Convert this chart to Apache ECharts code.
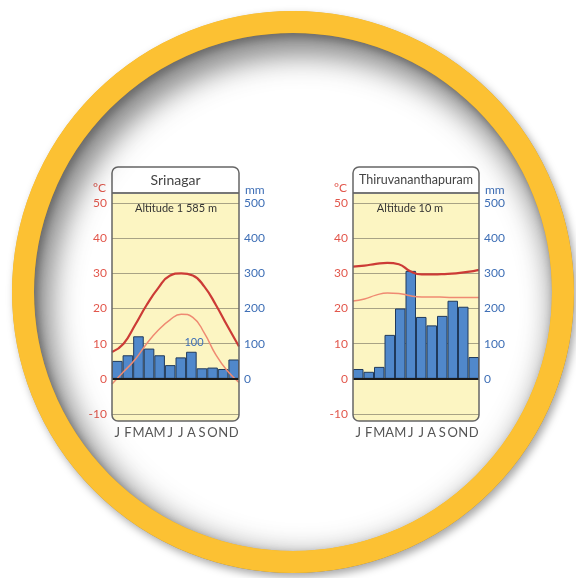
<!DOCTYPE html>
<html>
<head>
<meta charset="utf-8">
<script src="https://cdn.jsdelivr.net/npm/echarts@6/dist/echarts.min.js"></script>
<style>
  html, body { margin: 0; padding: 0; background: #fff; }
  #chart { width: 576px; height: 578px; }
</style>
</head>
<body>
<div id="chart"></div>
<script>
// month initials
var months = ['J', 'F', 'M', 'A', 'M', 'J', 'J', 'A', 'S', 'O', 'N', 'D']

// Srinagar
var srinagarRain = [51, 67, 121, 86, 67, 39, 61, 77, 30, 32, 28, 55]
var srinagarMax = [7.6, 10, 15.3, 21, 25.8, 29.3, 30, 29.4, 26.2, 21, 15, 9.2]
var srinagarMin = [-1.5, 2, 5.5, 10, 13.8, 16.7, 18.4, 17.5, 13, 6.8, 2.2, -1]

// Thiruvananthapuram
var thiruRain = [28, 20, 34, 125, 200, 307, 176, 152, 179, 222, 205, 62]
var thiruMax = [31.9, 32.2, 32.7, 33, 32.6, 30.6, 29.7, 29.7, 29.8, 30, 30.4, 31]
var thiruMin = [22.1, 22.7, 23.8, 24.4, 24.3, 23.6, 23.3, 23.3, 23.2, 23.1, 23.1, 23.1]

var tempTicks = { min: -10, max: 50, interval: 10 }
var rainTicks = { min: -100, max: 500, interval: 100 }

var font = 'Lato'
var red = '#e2574c'
var blue = '#3f6fb6'

var chart = echarts.init(document.getElementById('chart'))

function panel(x, w, title, titleSize, altitude, altX) {
  return [
    {
      type: 'rect', z: -10,
      shape: { x: x, y: 167, width: w, height: 254, r: 6 },
      style: { fill: '#fcf5c2' }
    },
    {
      type: 'rect', z: -9,
      shape: { x: x, y: 167, width: w, height: 26, r: [6, 6, 0, 0] },
      style: { fill: '#ffffff' }
    },
    {
      type: 'line', z: 10,
      shape: { x1: x, y1: 193, x2: x + w, y2: 193 },
      style: { stroke: '#777', lineWidth: 2 }
    },
    {
      type: 'rect', z: 10,
      shape: { x: x, y: 167, width: w, height: 254, r: 6 },
      style: { fill: null, stroke: '#666', lineWidth: 1.5 }
    },
    {
      type: 'text', z: 10, x: x + w / 2, y: 180,
      style: { text: title, font: titleSize + 'px ' + font, fill: '#444', align: 'center', verticalAlign: 'middle' }
    },
    {
      type: 'text', z: 10, x: altX, y: 208,
      style: { text: altitude, font: '11px ' + font, fill: '#333', align: 'center', verticalAlign: 'middle' }
    },
    {
      type: 'text', z: 10, x: x - 6, y: 188,
      style: { text: '°C', font: '12px ' + font, fill: red, align: 'right', verticalAlign: 'middle' }
    },
    {
      type: 'text', z: 10, x: x + w + 6, y: 190,
      style: { text: 'mm', font: '12px ' + font, fill: blue, align: 'left', verticalAlign: 'middle' }
    }
  ]
}

function xAxes(gridIndex) {
  return [
    {
      type: 'category', gridIndex: gridIndex, data: months, boundaryGap: true,
      position: 'bottom',
      axisLine: { show: false, onZero: false }, axisTick: { show: false },
      axisLabel: { interval: 0, margin: 12, color: '#555', fontSize: 13, fontFamily: font }
    },
    {
      type: 'category', gridIndex: gridIndex, data: months, boundaryGap: false,
      show: false
    }
  ]
}

function yAxes(gridIndex) {
  return [
    {
      type: 'value', gridIndex: gridIndex, position: 'left',
      min: tempTicks.min, max: tempTicks.max, interval: tempTicks.interval,
      axisLine: { show: false }, axisTick: { show: false },
      axisLabel: { margin: 5, color: red, fontSize: 12, fontFamily: font },
      splitLine: { show: true, lineStyle: { color: '#a8a385', width: 1 } }
    },
    {
      type: 'value', gridIndex: gridIndex, position: 'right',
      min: rainTicks.min, max: rainTicks.max, interval: rainTicks.interval,
      axisLine: { show: false }, axisTick: { show: false },
      axisLabel: {
        margin: 5, color: blue, fontSize: 12, fontFamily: font,
        formatter: function (v) { return v < 0 ? '' : v }
      },
      splitLine: { show: false }
    }
  ]
}

function seriesFor(k, rain, tmax, tmin) {
  return [
    {
      type: 'bar', xAxisIndex: k * 2, yAxisIndex: k * 2 + 1, data: rain,
      barCategoryGap: 0, z: 2,
      itemStyle: { color: '#5088cb', borderColor: '#203a5c', borderWidth: 1 },
      markLine: {
        silent: true, symbol: ['none', 'none'], label: { show: false },
        lineStyle: { color: '#1b1b1b', width: 2, type: 'solid' },
        data: [{ yAxis: 0 }]
      }
    },
    {
      type: 'line', xAxisIndex: k * 2 + 1, yAxisIndex: k * 2, data: tmin,
      smooth: true, symbol: 'none', z: 3,
      lineStyle: { color: '#ef8a72', width: 1.5 }
    },
    {
      type: 'line', xAxisIndex: k * 2 + 1, yAxisIndex: k * 2, data: tmax,
      smooth: true, symbol: 'none', z: 4,
      lineStyle: { color: '#cc3b36', width: 2.2 }
    }
  ]
}

var graphics = []
  .concat(panel(112, 127, 'Srinagar', 14, 'Altitude 1 585 m', 176))
  .concat(panel(353, 126, 'Thiruvananthapuram', 12.5, 'Altitude 10 m', 410))
  .concat([
    {
      type: 'text', z: 10, x: 194, y: 342,
      style: { text: '100', font: '11px ' + font, fill: blue, align: 'center', verticalAlign: 'middle' }
    },
    // heavy shadow pass for the inside of the ring
    {
      type: 'circle', z: 19,
      shape: { cx: 293, cy: 292, r: 270 },
      style: {
        fill: null, stroke: '#fcc133', lineWidth: 22,
        shadowColor: 'rgba(0,0,0,0.8)', shadowBlur: 34, shadowOffsetX: 9, shadowOffsetY: 14
      }
    },
    // wipe the heavy shadow outside the ring
    {
      type: 'circle', z: 19.5,
      shape: { cx: 293, cy: 292, r: 322 },
      style: { fill: null, stroke: '#ffffff', lineWidth: 82 }
    },
    {
      type: 'circle', z: 20,
      shape: { cx: 293, cy: 292, r: 270 },
      style: {
        fill: null, stroke: '#fcc133', lineWidth: 22,
        shadowColor: 'rgba(0,0,0,0.35)', shadowBlur: 8, shadowOffsetX: 3, shadowOffsetY: 4
      }
    }
  ])

chart.setOption({
  animation: false,
  backgroundColor: '#ffffff',
  grid: [
    { left: 112, top: 203, width: 127, height: 211 },
    { left: 353, top: 203, width: 126, height: 211 }
  ],
  xAxis: xAxes(0).concat(xAxes(1)),
  yAxis: yAxes(0).concat(yAxes(1)),
  series: seriesFor(0, srinagarRain, srinagarMax, srinagarMin)
    .concat(seriesFor(1, thiruRain, thiruMax, thiruMin)),
  graphic: graphics
})
</script>
</body>
</html>
